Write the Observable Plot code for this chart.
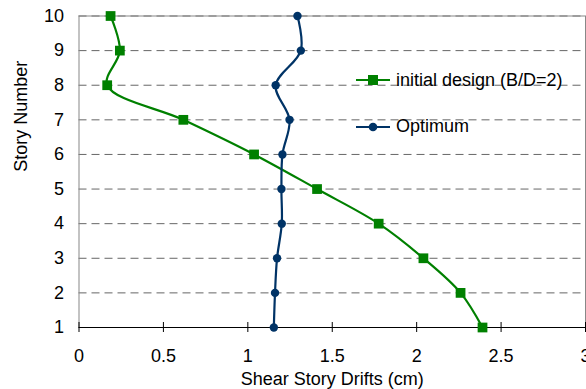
<!DOCTYPE html>
<html><head><meta charset="utf-8">
<script src="https://cdn.jsdelivr.net/npm/d3@7"></script>
<script src="https://cdn.jsdelivr.net/npm/@observablehq/plot@0.6"></script>
<style>
body{margin:0;background:#fff;font-family:"Liberation Sans",Arial,sans-serif;}
#wrap{position:relative;width:586px;height:389px;}
.leg{position:absolute;left:356px;font-size:18px;color:#000;display:flex;align-items:center;white-space:nowrap;}
.leg svg{margin-right:6px;}
</style>
</head><body>
<div id="wrap"></div>
<script>
const stories = [1,2,3,4,5,6,7,8,9,10];
const initialDesign = [2.39,2.26,2.04,1.775,1.41,1.037,0.618,0.167,0.242,0.187];
const optimum = [1.154,1.161,1.173,1.201,1.199,1.205,1.247,1.165,1.314,1.294];
const xTicks = [0,0.5,1,1.5,2,2.5,3];
const yTicks = [1,2,3,4,5,6,7,8,9,10];
const seriesNames = ["initial design (B/D=2)","Optimum"];
const green = "#008000", navy = "#003366";

const dInit = stories.map((s,i)=>({story:s, drift:initialDesign[i]})).reverse();
const dOpt = stories.map((s,i)=>({story:s, drift:optimum[i]})).reverse();

const chart = Plot.plot({
  width:586, height:389,
  marginLeft:78.5, marginRight:1, marginTop:15.5, marginBottom:62,
  style:{fontFamily:'"Liberation Sans",Arial,sans-serif', fontSize:"18px", color:"#000", background:"#fff"},
  x:{domain:[0,3]},
  y:{domain:[1,10]},
  marks:[
    Plot.ruleY(yTicks.filter(d=>d>1), {y:d=>d, stroke:"#666", strokeWidth:1, strokeDasharray:"8,5"}),
    Plot.frame({stroke:"#888", strokeWidth:1}),
    Plot.ruleY([1], {stroke:"#000", strokeWidth:1}),
    Plot.axisX({ticks:xTicks, tickSize:10, dy:-5, tickFormat:()=>"", label:null, stroke:"#000"}),
    Plot.axisX({ticks:xTicks, tickSize:0, tickPadding:22, tickFormat:d=>String(d), label:null, fontSize:18}),
    Plot.axisY({ticks:yTicks, tickSize:0, tickPadding:15, tickFormat:d=>String(d), label:null, fontSize:18}),
    Plot.text(["Shear Story Drifts (cm)"], {frameAnchor:"bottom", dy:57, text:d=>d, fontSize:18}),
    Plot.text(["Story Number"], {frameAnchor:"left", dx:-58, rotate:-90, text:d=>d, fontSize:18}),
    Plot.line(dInit, {x:"drift", y:"story", stroke:green, strokeWidth:2.2, curve:"catmull-rom"}),
    Plot.dot(dInit, {x:"drift", y:"story", fill:green, symbol:"square", r:5.5}),
    Plot.line(dOpt, {x:"drift", y:"story", stroke:navy, strokeWidth:2.2, curve:"catmull-rom"}),
    Plot.dot(dOpt, {x:"drift", y:"story", fill:navy, symbol:"circle", r:4.2})
  ]
});
const wrap = document.getElementById("wrap");
wrap.appendChild(chart);

function legendItem(name, color, shape, top){
  const div = document.createElement("div");
  div.className="leg"; div.style.top = (top-12)+"px";
  const m = shape==="square" ? `<rect x="12" y="7" width="10" height="10" fill="${color}"/>` : `<circle cx="17" cy="12" r="4.3" fill="${color}"/>`;
  div.innerHTML = `<svg width="34" height="24"><line x1="0" y1="12" x2="34" y2="12" stroke="${color}" stroke-width="2.2"/>${m}</svg><span>${name}</span>`;
  wrap.appendChild(div);
}
legendItem(seriesNames[0], green, "square", 80);
legendItem(seriesNames[1], navy, "circle", 126.5);
</script>
</body></html>
